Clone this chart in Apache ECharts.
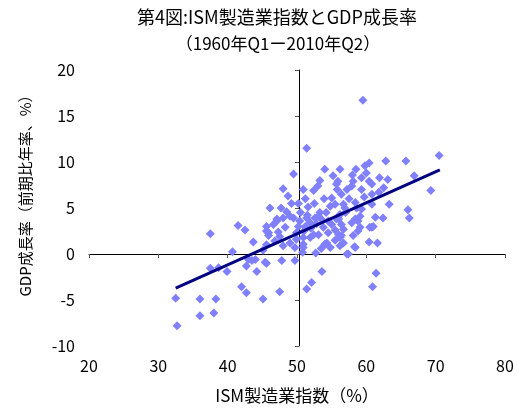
<!DOCTYPE html>
<html>
<head>
<meta charset="utf-8">
<script src="https://cdn.jsdelivr.net/npm/echarts@6/dist/echarts.min.js"></script>
<style>html,body{margin:0;padding:0;background:#fff}#c{width:522px;height:409px}</style>
</head>
<body>
<div id="c"></div>
<script>
const titleLine1 = '第4図:ISM製造業指数とGDP成長率';
const titleLine2 = '（1960年Q1ー2010年Q2）';
const xName = 'ISM製造業指数（%）';
const yName = 'GDP成長率（前期比年率、%）';

const ism = [59.5,51.4,54.0,56.2,53.3,55.2,55.9,58.5,59.3,59.8,60.4,62.8,65.7,70.5,61.9,63.1,66.9,69.3,50.9,52.4,
55.7,58.1,57.9,60.8,60.4,59.3,60.8,56.4,55.0,63.3,58.4,59.3,60.8,66.0,66.2,61.3,62.4,51.6,54.8,55.5,
56.9,53.3,55.7,58.8,56.4,60.8,59.1,51.4,58.4,56.2,56.0,58.8,60.5,60.4,61.6,58.3,57.4,52.7,50.8,53.6,
52.1,51.4,61.4,60.9,56.7,54.8,54.0,56.4,51.9,53.1,54.5,57.9,50.9,52.6,46.1,49.2,41.5,42.5,37.5,45.6,
45.9,47.1,47.3,48.3,49.0,43.7,46.8,48.0,45.6,40.7,45.1,49.7,37.5,38.7,39.9,42.7,43.5,44.0,44.2,45.6,
47.8,49.7,42.0,42.7,47.5,45.1,32.5,36.0,38.3,36.0,38.0,32.7,49.5,48.0,48.7,47.1,55.8,56.7,58.6,45.6,
46.6,48.0,49.5,50.4,51.2,51.9,53.1,53.8,55.0,56.0,59.1,49.9,49.9,50.9,52.4,50.9,54.3,56.2,56.2,58.1,
58.4,57.2,45.9,45.4,50.5,51.0,51.5,52.0,50.2,52.8,53.5,54.2,53.9,52.5,57.5,57.0,55.5,54.5,48.5,47.7,
59.7,61.8,62.5,58.0,60.0,53.0,57.2,56.7,49.0,53.5,55.5,47.5,51.2,50.2,43.0,61.0];
const gdp = [16.7,11.5,9.2,9.2,8.0,8.5,7.9,9.2,8.3,9.6,9.9,10.1,10.1,10.7,8.3,8.1,8.5,6.9,7.0,6.9,
7.6,7.9,7.4,7.6,7.9,7.0,6.5,6.5,6.1,5.4,5.6,4.9,5.4,4.8,3.9,4.0,3.9,5.1,5.2,5.4,
5.0,4.5,3.8,3.6,3.2,2.9,2.9,3.9,3.8,4.3,2.1,2.5,2.9,1.3,1.2,0.8,0.0,0.1,0.2,-1.9,
-3.1,-3.8,-2.1,-3.55,1.2,0.7,1.05,2.0,1.8,2.1,3.6,3.4,1.05,3.9,5.0,5.5,3.1,2.6,2.2,3.0,
2.3,3.6,2.4,2.9,4.1,1.3,1.4,0.9,1.0,0.25,0.4,0.7,-1.55,-1.5,-1.9,-1.3,-0.7,-0.6,-1.9,-1.0,
-0.7,-0.7,-3.55,-4.2,-4.1,-4.9,-4.8,-4.9,-4.9,-6.7,-6.4,-7.8,8.7,7.1,6.3,3.8,7.0,5.4,5.0,2.5,
3.2,3.9,3.9,3.6,3.0,3.4,4.1,2.9,3.2,3.8,4.1,2.3,1.6,1.8,2.1,0.7,1.2,1.8,0.9,2.0,
0.7,0.0,2.0,-0.9,4.5,2.5,4.2,2.8,3.0,3.3,3.8,4.5,6.0,5.5,6.0,4.5,2.6,2.3,4.6,5.0,
6.2,6.7,7.2,8.6,8.8,7.4,7.0,2.7,1.2,0.6,1.5,1.9,6.0,5.5,-0.6,3.0];

const trendX = [32.5, 70.6];
const trendY = [-3.7, 9.15];

const xMin = 20, xMax = 80, xStep = 10;
const yMin = -10, yMax = 20, yStep = 5;

const points = ism.map((v, i) => [v, gdp[i]]);
const trend = trendX.map((v, i) => [v, trendY[i]]);

const chart = echarts.init(document.getElementById('c'), null, {renderer: 'canvas'});
const font = '"Noto Sans CJK JP", "Liberation Sans", sans-serif';
const axisLbl = {fontSize: 16, color: '#000', fontFamily: font};

chart.setOption({
  animation: false,
  backgroundColor: '#fff',
  grid: {left: 89, right: 17, top: 70, bottom: 63, containLabel: false},
  xAxis: [
    {type: 'value', min: xMin, max: xMax, interval: xStep, position: 'bottom',
     axisLine: {show: false, onZero: false}, axisTick: {show: false}, splitLine: {show: false},
     axisLabel: Object.assign({margin: 12}, axisLbl)},
    {type: 'value', min: xMin, max: xMax, interval: xStep, position: 'bottom',
     axisLine: {show: true, onZero: true, lineStyle: {color: '#000', width: 1}},
     axisTick: {show: true, length: 4, lineStyle: {color: '#555'}},
     axisLabel: {show: false}, splitLine: {show: false}}
  ],
  yAxis: [
    {type: 'value', min: yMin, max: yMax, interval: yStep, position: 'left',
     axisLine: {show: false}, axisTick: {show: false}, splitLine: {show: false},
     axisLabel: Object.assign({margin: 14}, axisLbl)},
    {type: 'value', min: yMin, max: yMax, interval: yStep, position: 'left', offset: -210,
     axisLine: {show: true, onZero: false, lineStyle: {color: '#000', width: 1}},
     axisTick: {show: true, length: 4, lineStyle: {color: '#555'}},
     axisLabel: {show: false}, splitLine: {show: false}}
  ],
  graphic: [
    {type: 'text', x: 277, y: 17, style: {text: titleLine1, font: '18px ' + font, fill: '#000', textAlign: 'center', textVerticalAlign: 'middle'}},
    {type: 'text', x: 278, y: 44, style: {text: titleLine2, font: '17px ' + font, fill: '#000', textAlign: 'center', textVerticalAlign: 'middle'}},
    {type: 'text', x: 297, y: 396, style: {text: xName, font: '17px ' + font, fill: '#000', textAlign: 'center', textVerticalAlign: 'middle'}},
    {type: 'text', x: 25, y: 192, rotation: Math.PI / 2, style: {text: yName, font: '15px ' + font, fill: '#000', textAlign: 'center', textVerticalAlign: 'middle'}}
  ],
  series: [
    {type: 'scatter', xAxisIndex: 0, yAxisIndex: 0, data: points, symbol: 'diamond', symbolSize: 9,
     itemStyle: {color: '#8080FF', opacity: 1}, z: 3},
    {type: 'line', xAxisIndex: 0, yAxisIndex: 0, data: trend, symbol: 'none',
     lineStyle: {color: '#000080', width: 3}, z: 4}
  ]
});
</script>
</body>
</html>
